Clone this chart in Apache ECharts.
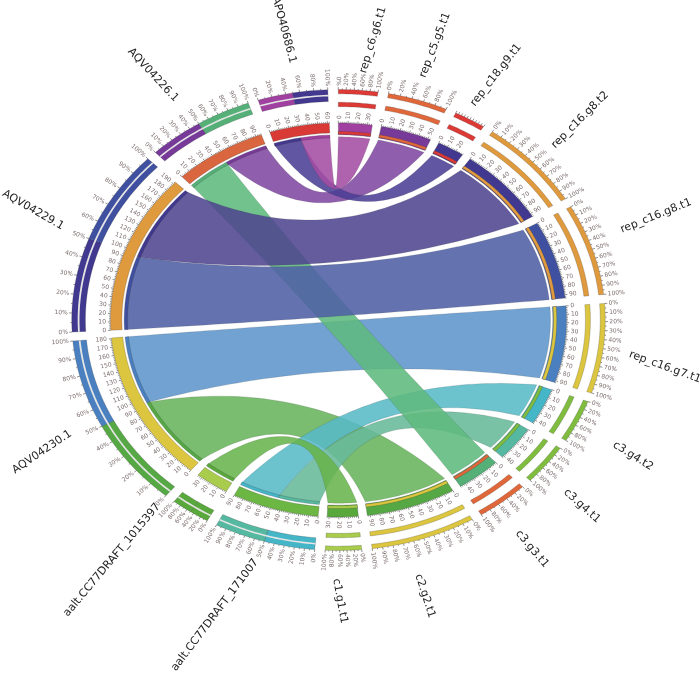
<!DOCTYPE html>
<html>
<head>
<meta charset="utf-8">
<style>
    html, body { margin: 0; padding: 0; background: #fff; }
    #main { width: 700px; height: 678px; }
</style>
<script src="https://cdn.jsdelivr.net/npm/echarts@6/dist/echarts.min.js"></script>
</head>
<body>
<div id="main"></div>
<script>
// sectors, clockwise from the gap on the left
const sectorNames = ['AQV04229.1', 'AQV04226.1', 'APO40686.1', 'rep_c6.g6.t1', 'rep_c5.g5.t1', 'rep_c18.g9.t1',
    'rep_c16.g8.t2', 'rep_c16.g8.t1', 'rep_c16.g7.t1', 'c3.g4.t2', 'c3.g4.t1', 'c3.g3.t1', 'c2.g2.t1', 'c1.g1.t1',
    'aalt.CC77DRAFT_171007', 'aalt.CC77DRAFT_1015397', 'AQV04230.1'];
const sectorLengths = [193, 96, 62, 35, 53, 28, 94, 94, 92, 44, 42, 46, 93, 32, 90, 35, 181];
const percentSteps = [10, 10, 20, 20, 20, 0, 10, 10, 10, 20, 20, 20, 10, 20, 10, 20, 10];

// links: source sector, source from, source to, target sector, target from, target to
const linkSource = [16, 14, 14, 16, 15, 1, 0, 0, 1, 2, 2];
const linkSourceFrom = [0, 45, 0, 94, 0, 0, 0, 94, 48, 0, 30];
const linkSourceTo = [94, 90, 45, 181, 35, 48, 94, 193, 96, 30, 62];
const linkTarget = [12, 9, 10, 8, 13, 11, 7, 6, 4, 5, 3];
const linkTargetFrom = [0, 0, 0, 0, 0, 0, 0, 0, 0, 0, 0];
const linkTargetTo = [93, 44, 42, 92, 32, 46, 94, 94, 53, 28, 35];

// outer ring of the source sectors: which link fills each half
const outerFirstHalf = { 0: 7, 1: 8, 2: 10, 14: 1, 15: 4, 16: 0 };
const outerSecondHalf = { 0: 6, 1: 5, 2: 9, 14: 2, 15: 4, 16: 3 };

const sectorColors = ['#e09a3e', '#d9663f', '#d93a35', '#dd3a35', '#e0673a', '#dd3a35', '#e09a3e', '#e09a3e',
    '#dcc63f', '#80bd3f', '#80bd3f', '#e0673a', '#dcc63f', '#a9cc4c', '#6cb643', '#a9cc4c', '#dcc63f'];
const linkColors = ['#68b35c', '#58b9c6', '#66b99a', '#5f95cb', '#68b44c', '#5eb97e', '#4f60a4', '#4f4590', '#8048a0', '#4b3f94', '#a44da4'];
const linkBandColors = ['#55a844', '#45b5c8', '#55b8a0', '#4a80c0', '#58a83c', '#55b078', '#4050a0', '#40398f', '#773a98', '#433890', '#a040a0'];

// name label centre x, y and rotation in degrees
const nameLabels = [[33, 210, -30], [153, 75, -47], [284, 30, -75], [373, 40, 73], [435, 45, 69], [496, 75, 52],
    [580, 120, 45], [656, 216, 22], [665, 367, -20], [633, 456, -32], [582, 506, -42], [532, 549, -50],
    [425, 596, -72], [340, 601, -80], [215, 615, 53], [112, 560, 50], [42, 452, 34]];

const START_ANGLE = -93;
const UNIT_ANGLE = 0.2455;
const GAP_ANGLE = 2.26;
const BEZIER_K = 0.45;

// start angle of each sector
const sectorStart = [];
let cursor = START_ANGLE;
sectorLengths.forEach(function (len) {
    sectorStart.push(cursor);
    cursor += len * UNIT_ANGLE + GAP_ANGLE;
});

const isSource = function (i) { return outerFirstHalf[i] !== undefined; };
const angleOf = function (sector, value) { return sectorStart[sector] + value * UNIT_ANGLE; };
// the axes have different scales, so a unit circle comes out as the squashed ring of the picture
const unit = function (angle, r) {
    const a = angle * Math.PI / 180;
    return [r * Math.sin(a), r * Math.cos(a)];
};

function arcPoints(api, from, to, r) {
    const out = [];
    const n = Math.max(2, Math.ceil(Math.abs(to - from)));
    for (let i = 0; i <= n; i++) {
        out.push(api.coord(unit(from + (to - from) * i / n, r)));
    }
    return out;
}

function band(api, from, to, r0, r1, fill, stroke) {
    return {
        type: 'polygon',
        shape: { points: arcPoints(api, from, to, r1).concat(arcPoints(api, to, from, r0)) },
        style: { fill: fill, stroke: stroke || 'rgba(50,50,50,0.45)', lineWidth: 0.5 }
    };
}

// one edge of a ribbon, control point pulled towards the centre
function ribbonEdge(api, a, b, r) {
    const p0 = unit(a, r);
    const p2 = unit(b, r);
    const c = [(p0[0] + p2[0]) / 2 * BEZIER_K, (p0[1] + p2[1]) / 2 * BEZIER_K];
    const out = [];
    for (let i = 0; i <= 48; i++) {
        const t = i / 48;
        const s = 1 - t;
        out.push(api.coord([
            s * s * p0[0] + 2 * s * t * c[0] + t * t * p2[0],
            s * s * p0[1] + 2 * s * t * c[1] + t * t * p2[1]
        ]));
    }
    return out;
}

function renderRibbon(params, api) {
    const i = params.dataIndex;
    const s0 = angleOf(linkSource[i], linkSourceFrom[i]);
    const s1 = angleOf(linkSource[i], linkSourceTo[i]);
    const t0 = angleOf(linkTarget[i], linkTargetFrom[i]);
    const t1 = angleOf(linkTarget[i], linkTargetTo[i]);
    const R = 0.93;
    const points = arcPoints(api, s0, s1, R)
        .concat(ribbonEdge(api, s1, t0, R))
        .concat(arcPoints(api, t0, t1, R))
        .concat(ribbonEdge(api, t1, s0, R));
    return {
        type: 'polygon',
        shape: { points: points },
        style: { fill: linkColors[i], opacity: 0.88, stroke: 'rgba(50,50,50,0.3)', lineWidth: 0.5 }
    };
}

function renderSector(params, api) {
    const i = params.dataIndex;
    const from = angleOf(i, 0);
    const to = angleOf(i, sectorLengths[i]);
    const children = [];
    if (isSource(i)) {
        children.push(band(api, from, to, 0.95, 1, sectorColors[i]));
        // outer ring, split in two halves with a thin white line
        const mid = (from + to) / 2;
        children.push(band(api, from, mid, 1.11, 1.17, linkBandColors[outerFirstHalf[i]]));
        children.push(band(api, mid, to, 1.11, 1.17, linkBandColors[outerSecondHalf[i]]));
        children.push(band(api, from, to, 1.136, 1.144, '#e4e4e4', 'none'));
    } else {
        children.push(band(api, from, to, 1.083, 1.105, sectorColors[i]));
        children.push(band(api, from, to, 1.148, 1.17, sectorColors[i]));
    }
    // thin bands where the ribbons meet the sector
    linkSource.forEach(function (s, k) {
        if (s === i) {
            children.push(band(api, angleOf(i, linkSourceFrom[k]), angleOf(i, linkSourceTo[k]), 0.925, 0.94, linkBandColors[k]));
        }
        if (linkTarget[k] === i) {
            const a = angleOf(i, linkTargetFrom[k]);
            const b = angleOf(i, linkTargetTo[k]);
            children.push(band(api, a, b, 0.94, 1, linkBandColors[k]));
            children.push(band(api, a, b, 0.943, 0.957, sectorColors[i]));
        }
    });
    return { type: 'group', children: children };
}

function tickLine(api, angle, r0, r1) {
    const p0 = api.coord(unit(angle, r0));
    const p1 = api.coord(unit(angle, r1));
    return {
        type: 'line',
        shape: { x1: p0[0], y1: p0[1], x2: p1[0], y2: p1[1] },
        style: { stroke: '#444', lineWidth: 0.6 }
    };
}

function tickText(api, angle, r, text) {
    const p0 = api.coord(unit(angle, r));
    const p1 = api.coord(unit(angle, r + 0.1));
    const dx = p1[0] - p0[0];
    let rot = Math.atan2(p0[1] - p1[1], dx);
    if (dx < 0) { rot += Math.PI; }
    return {
        type: 'text',
        x: p0[0],
        y: p0[1],
        rotation: rot,
        style: {
            text: text,
            fill: '#7d6e6e',
            font: '6px "DejaVu Sans"',
            align: dx < 0 ? 'right' : 'left',
            verticalAlign: 'middle'
        }
    };
}

function renderTicks(params, api) {
    const i = params.dataIndex;
    const children = [];
    // inner scale, in residues
    for (let v = 0; v <= sectorLengths[i]; v += 2) {
        const major = v % 10 === 0;
        children.push(tickLine(api, angleOf(i, v), 1, major ? 1.012 : 1.006));
        if (major) {
            children.push(tickText(api, angleOf(i, v), 1.02, String(v)));
        }
    }
    // outer scale, in percent
    const rTop = 1.17;
    const step = percentSteps[i];
    const minor = step === 0 ? 10 : step / 2;
    for (let p = 0; p <= 100; p += minor) {
        const a = angleOf(i, sectorLengths[i] * p / 100);
        const major = step !== 0 && p % step === 0;
        children.push(tickLine(api, a, rTop, major || step === 0 ? rTop + 0.012 : rTop + 0.006));
        if (major) {
            children.push(tickText(api, a, rTop + 0.018, p + '%'));
        }
    }
    // sector name
    const pos = nameLabels[i];
    children.push({
        type: 'text',
        x: pos[0],
        y: pos[1],
        rotation: pos[2] * Math.PI / 180,
        style: {
            text: sectorNames[i],
            fill: '#222',
            font: '11px "DejaVu Sans"',
            align: 'center',
            verticalAlign: 'middle'
        }
    });
    return { type: 'group', children: children };
}

const RX = 228;
const RY = 197;
const CX = 338.5;
const CY = 320;

const myChart = echarts.init(document.getElementById('main'), null, { renderer: 'canvas' });

const rows = function (arr) { return arr.map(function (_, i) { return [i, 0]; }); };

const option = {
    animation: false,
    backgroundColor: '#fff',
    grid: { left: 0, right: 0, top: 0, bottom: 0 },
    xAxis: { type: 'value', show: false, min: -CX / RX, max: (700 - CX) / RX },
    yAxis: { type: 'value', show: false, min: -(678 - CY) / RY, max: CY / RY },
    series: [
        { type: 'custom', silent: true, clip: false, data: rows(linkSource), renderItem: renderRibbon },
        { type: 'custom', silent: true, clip: false, data: rows(sectorNames), renderItem: renderSector },
        { type: 'custom', silent: true, clip: false, data: rows(sectorNames), renderItem: renderTicks }
    ]
};

myChart.setOption(option);
</script>
</body>
</html>
